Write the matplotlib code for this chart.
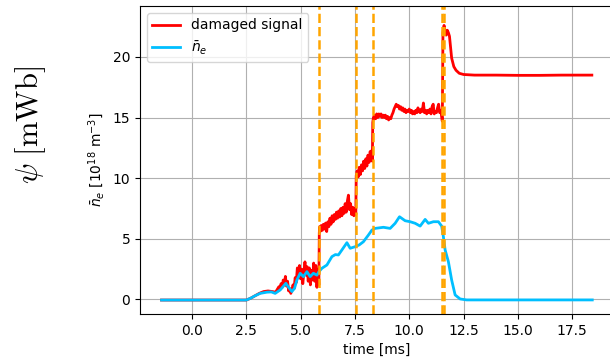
import matplotlib
matplotlib.use("Agg")
import matplotlib.pyplot as plt

# n_e (smooth) signal
ne_t = [-1.4, 2.5, 2.7, 2.9, 3.14, 3.45, 3.65, 3.83, 4.06, 4.32, 4.45, 4.6, 4.72, 4.83,
        4.98, 5.13, 5.29, 5.44, 5.59, 5.75, 5.85, 5.98, 6.21, 6.44, 6.6, 6.74, 6.9, 7.13,
        7.28, 7.51, 7.7, 7.89, 8.12, 8.28, 8.43, 8.81, 9.12, 9.35, 9.55, 9.81, 10.04,
        10.27, 10.5, 10.73, 10.88, 11.11, 11.34, 11.49, 11.57, 11.65, 11.80, 11.95,
        12.11, 12.34, 12.64, 18.42]
ne_v = [-0.05, -0.05, 0.1, 0.3, 0.5, 0.6, 0.62, 0.5, 0.78, 1.33, 1.0, 0.65, 0.92, 1.6,
        2.16, 1.88, 2.29, 1.88, 2.16, 2.0, 2.3, 2.57, 2.84, 3.53, 3.7, 3.67, 4.08, 4.68,
        4.22, 4.35, 4.5, 4.76, 5.31, 5.72, 5.86, 5.95, 5.86, 6.28, 6.82, 6.49, 6.41,
        6.28, 6.05, 6.6, 6.28, 6.41, 6.41, 6.05, 5.17, 4.08, 3.11, 1.6,
        0.37, 0.04, -0.04, -0.04]

# damaged signal (noisy, with jumps)
dmg_t = [-1.4, 2.5, 2.7, 2.9, 3.1, 3.3, 3.5, 3.7, 3.85,
         3.90, 3.95, 4.00, 4.05, 4.10, 4.15, 4.20, 4.25, 4.30, 4.35, 4.40, 4.45, 4.50,
         4.55, 4.60, 4.65, 4.70, 4.75, 4.80, 4.85, 4.90, 4.95, 5.00, 5.05, 5.10, 5.15,
         5.20, 5.25, 5.30, 5.35, 5.40, 5.45, 5.50, 5.55, 5.60, 5.65, 5.70, 5.75, 5.80,
         5.84, 5.86, 5.88,
         5.90, 5.95, 6.00, 6.05, 6.10, 6.15, 6.20, 6.25, 6.30, 6.35, 6.40, 6.45, 6.50,
         6.55, 6.60, 6.65, 6.70, 6.75, 6.80, 6.85, 6.90, 6.95, 7.00, 7.05, 7.10, 7.15,
         7.20, 7.25, 7.30, 7.35, 7.40, 7.45, 7.50, 7.54, 7.56,
         7.60, 7.65, 7.70, 7.75, 7.80, 7.85, 7.90, 7.95, 8.00, 8.05, 8.10, 8.15, 8.20,
         8.25, 8.28, 8.30, 8.32, 8.35,
         8.40, 8.45, 8.50, 8.55, 8.60, 8.65, 8.70, 8.75, 8.80, 8.85, 8.90, 8.95, 9.00,
         9.05, 9.10, 9.15, 9.20, 9.25, 9.30, 9.35, 9.40, 9.45, 9.50, 9.55, 9.60, 9.65,
         9.70, 9.75, 9.80, 9.85, 9.90, 9.95, 10.00, 10.05, 10.10, 10.15, 10.20, 10.25,
         10.30, 10.35, 10.40, 10.45, 10.50, 10.55, 10.60, 10.65, 10.70, 10.75, 10.80,
         10.85, 10.90, 10.95, 11.00, 11.05, 11.10, 11.15, 11.20, 11.25, 11.30, 11.35,
         11.40, 11.45, 11.50, 11.52, 11.55, 11.60, 11.65, 11.70, 11.75, 11.80, 11.85,
         11.90, 11.95, 12.05, 12.15, 12.30, 12.50, 13.0, 14.0, 15.0, 16.0, 17.0, 18.4]
dmg_v = [-0.05, -0.05, 0.1, 0.3, 0.5, 0.65, 0.7, 0.65, 0.6,
         0.75, 0.9, 1.05, 0.85, 1.3, 1.0, 1.6, 1.2, 1.9, 1.1, 1.5, 0.7, 0.9,
         0.5, 0.8, 1.2, 0.9, 1.8, 1.4, 2.6, 1.9, 2.8, 1.7, 2.5, 1.3, 2.2,
         3.1, 2.0, 2.7, 1.5, 2.6, 1.2, 2.4, 1.6, 3.0, 1.5, 2.8, 1.0, 2.5,
         1.2, 5.5, 6.0,
         5.6, 6.1, 5.7, 6.2, 5.8, 6.3, 5.6, 6.4, 6.0, 6.7, 6.2, 6.9, 6.4,
         7.0, 6.6, 7.2, 6.7, 7.3, 6.8, 7.5, 6.9, 7.6, 7.1, 7.9, 7.2, 8.1,
         8.6, 7.4, 7.9, 7.0, 7.6, 6.9, 7.5, 7.0, 10.2,
         10.6, 10.1, 10.9, 10.3, 11.1, 10.6, 11.4, 10.8, 11.6, 11.0, 11.9, 11.3, 12.2,
         11.5, 12.3, 11.4, 14.6, 15.0,
         15.2, 14.9, 15.3, 15.0, 15.3, 15.1, 15.3, 15.0, 15.2, 15.0, 15.2, 14.9, 15.1,
         14.8, 15.0, 14.9, 15.2, 15.4, 15.7, 15.9, 16.1, 15.9, 16.0, 15.7, 15.9, 15.6,
         15.8, 15.5, 15.7, 15.4, 15.6, 15.5, 15.7, 15.4, 15.6, 15.3, 15.5, 15.3,
         15.6, 15.4, 15.8, 15.5, 15.4, 15.7, 15.5, 16.2, 15.4, 15.6, 15.3,
         15.6, 15.4, 15.7, 15.3, 15.9, 16.1, 15.3, 15.5, 15.4, 15.8, 16.1,
         15.4, 15.6, 15.0, 14.7, 22.0, 22.6, 22.1, 21.8, 22.2, 22.0, 21.7,
         20.8, 19.9, 19.2, 18.9, 18.65, 18.55, 18.5, 18.5, 18.48, 18.48, 18.5, 18.5]

# marker times (dashed vertical lines)
event_t = [5.83, 7.53, 8.31, 11.52, 11.59]

fig = plt.figure(figsize=(6.1, 3.63), dpi=100)
ax = fig.add_axes([0.2295, 0.135, 0.776, 0.8485])

ax.plot(dmg_t, dmg_v, color='red', lw=2, label='damaged signal')
ax.plot(ne_t, ne_v, color='deepskyblue', lw=2, label=r'$\bar{n}_e$')
for t in event_t:
    ax.axvline(t, color='orange', ls='--', lw=1.8)

ax.set_xlim(-2.39, 19.39)
ax.set_ylim(-1.2, 24.2)
ax.grid(True)
ax.set_xlabel('time [ms]')
ax.set_ylabel(r'$\bar{n}_e$ [10$^{18}$ m$^{-3}$]')
ax.legend(loc='upper left')

fig.text(0.05, 0.655, r'$\psi\ [\mathrm{mWb}]$', rotation=90, fontsize=22,
         math_fontfamily='cm', ha='center', va='center')

fig.savefig('out.png')
